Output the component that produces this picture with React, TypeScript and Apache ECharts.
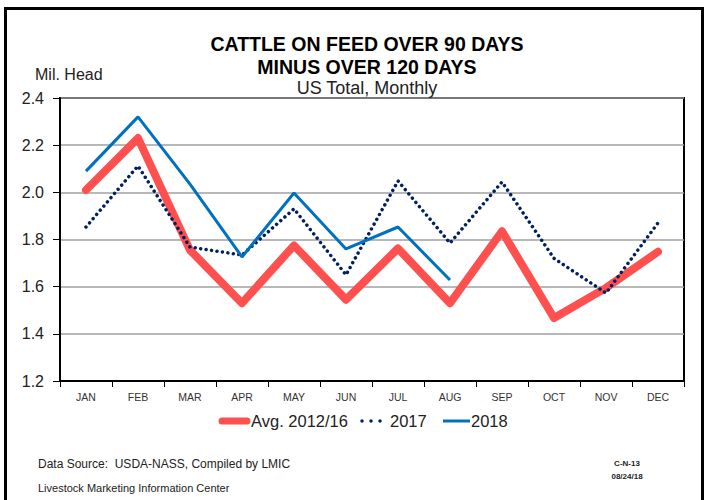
import React, { useEffect, useRef } from "react";
import * as echarts from "echarts";

const months = ["JAN", "FEB", "MAR", "APR", "MAY", "JUN", "JUL", "AUG", "SEP", "OCT", "NOV", "DEC"];
const avg1216 = [2.01, 2.23, 1.755, 1.53, 1.775, 1.545, 1.762, 1.53, 1.835, 1.467, 1.595, 1.748];
const y2017 = [1.853, 2.112, 1.768, 1.734, 1.93, 1.65, 2.048, 1.785, 2.044, 1.72, 1.573, 1.87];
const y2018 = [2.09, 2.32, 2.035, 1.726, 1.997, 1.76, 1.853, 1.628];
const yTicks = { min: 1.2, max: 2.4, interval: 0.2 };
const seriesNames = ["Avg. 2012/16", "2017", "2018"];

const SANS = "'Liberation Sans', Arial, sans-serif";
const RED = "#FF5050";
const NAVY = "#002060";
const BLUE = "#0070C0";

export default function App() {
  const ref = useRef<HTMLDivElement>(null);
  useEffect(() => {
    if (!ref.current) return;
    const chart = echarts.init(ref.current, null, { renderer: "svg" });
    const legendY = 421;
    const legendText = (x: number, text: string) => ({
      type: "text",
      x,
      y: legendY,
      style: { text, fontFamily: SANS, fontSize: 16.5, fill: "#222", verticalAlign: "middle" },
    });
    chart.setOption({
      animation: false,
      backgroundColor: "#fff",
      title: {
        text: "CATTLE ON FEED OVER 90 DAYS\nMINUS OVER 120 DAYS",
        subtext: "US Total, Monthly",
        left: 362,
        textAlign: "center",
        top: 27,
        itemGap: 1,
        textStyle: { fontFamily: SANS, fontWeight: "bold", fontSize: 19.5, color: "#000", lineHeight: 23 },
        subtextStyle: { fontFamily: SANS, fontSize: 18, color: "#222" },
      },
      grid: {
        left: 60,
        right: 27,
        top: 98,
        bottom: 119,
        show: true,
        borderColor: "#000",
        borderWidth: 2,
      },
      xAxis: {
        type: "category",
        data: months,
        boundaryGap: true,
        axisLine: { lineStyle: { color: "#000", width: 2 } },
        axisTick: { show: true, length: 6, lineStyle: { color: "#000" } },
        axisLabel: { fontFamily: SANS, fontSize: 10.5, color: "#333", margin: 10 },
      },
      yAxis: {
        type: "value",
        min: yTicks.min,
        max: yTicks.max,
        interval: yTicks.interval,
        axisLine: { show: true, lineStyle: { color: "#000", width: 2 } },
        axisTick: { show: true, length: 7, lineStyle: { color: "#000" } },
        axisLabel: {
          fontFamily: SANS,
          fontSize: 16,
          color: "#222",
          margin: 16,
          formatter: (v: number) => v.toFixed(1),
        },
        splitLine: { lineStyle: { color: "#a0a0a0", width: 1.5 } },
      },
      graphic: [
        {
          type: "rect",
          shape: { x: 5.5, y: 8.5, width: 697, height: 500 },
          style: { fill: "none", stroke: "#000", lineWidth: 3 },
          silent: true,
        },
        {
          type: "text",
          left: 35,
          top: 66,
          style: { text: "Mil. Head", fontFamily: SANS, fontSize: 16, fill: "#222" },
        },
        {
          type: "line",
          shape: { x1: 222, y1: legendY, x2: 247, y2: legendY },
          style: { stroke: RED, lineWidth: 7, lineCap: "round" },
        },
        legendText(251, seriesNames[0]),
        {
          type: "line",
          shape: { x1: 362, y1: legendY, x2: 389, y2: legendY },
          style: { stroke: NAVY, lineWidth: 3.5, lineCap: "round", lineDash: [0.01, 9] },
        },
        legendText(390, seriesNames[1]),
        {
          type: "line",
          shape: { x1: 443, y1: legendY, x2: 470, y2: legendY },
          style: { stroke: BLUE, lineWidth: 3 },
        },
        legendText(471, seriesNames[2]),
        {
          type: "text",
          left: 38,
          top: 458,
          style: { text: "Data Source:  USDA-NASS, Compiled by LMIC", fontFamily: SANS, fontSize: 12, fill: "#222" },
        },
        {
          type: "text",
          left: 38,
          top: 482,
          style: { text: "Livestock Marketing Information Center", fontFamily: SANS, fontSize: 11, fill: "#222" },
        },
        {
          type: "text",
          x: 627,
          y: 459,
          style: { text: "C-N-13", fontFamily: SANS, fontWeight: "bold", fontSize: 8, fill: "#222", align: "center" },
        },
        {
          type: "text",
          x: 627,
          y: 472,
          style: { text: "08/24/18", fontFamily: SANS, fontWeight: "bold", fontSize: 8, fill: "#222", align: "center" },
        },
      ],
      series: [
        {
          name: seriesNames[0],
          type: "line",
          data: avg1216,
          symbol: "none",
          z: 3,
          lineStyle: { color: RED, width: 8, cap: "round", join: "round" },
          itemStyle: { color: RED },
        },
        {
          name: seriesNames[1],
          type: "line",
          data: y2017,
          symbol: "none",
          z: 4,
          lineStyle: { color: NAVY, width: 3.5, type: [0.01, 5.5], cap: "round" },
          itemStyle: { color: NAVY },
        },
        {
          name: seriesNames[2],
          type: "line",
          data: y2018,
          symbol: "none",
          z: 5,
          lineStyle: { color: BLUE, width: 3 },
          itemStyle: { color: BLUE },
        },
      ],
    });
    return () => chart.dispose();
  }, []);
  return (
    <div
      ref={ref}
      style={{ position: "fixed", left: 0, top: 0, width: 711, height: 500, background: "#fff" }}
    />
  );
}
